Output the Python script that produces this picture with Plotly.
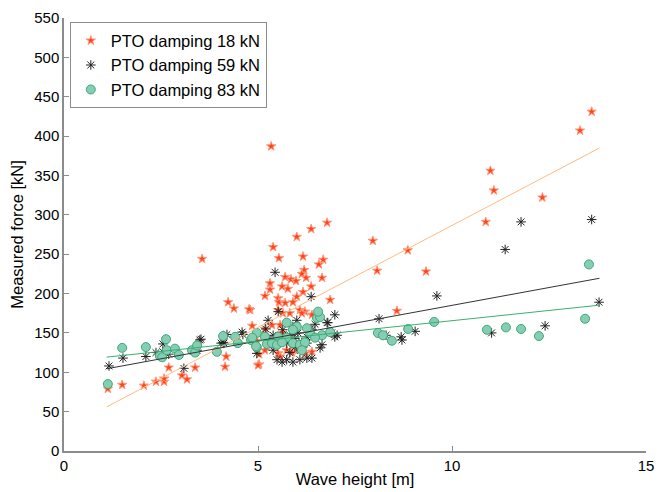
import plotly.graph_objects as go

# ---- data: PTO damping 18 kN (red stars) ----
h18 = [1.13, 1.50, 2.06, 2.37, 2.58, 2.58, 2.70, 3.04, 3.17, 3.38, 3.56, 4.15, 4.18, 4.23, 4.38,
       4.80, 4.85, 4.97, 5.03, 5.03, 5.00, 5.18, 5.34, 5.39, 5.54, 6.16, 6.57, 6.68, 6.19, 6.13,
       6.24, 5.70, 5.85, 5.98, 6.65, 5.31, 5.31, 5.62, 5.77, 6.37, 6.16, 5.18, 5.52, 6.00, 6.86,
       5.54, 5.70, 5.90, 5.52, 6.08, 6.21, 5.64, 5.82, 5.36, 6.13, 6.39, 5.57, 5.62, 5.52, 5.74,
       5.88, 6.21, 6.39, 5.57, 6.03, 6.00, 6.37, 6.78, 7.96, 8.07, 8.58, 8.86, 9.33, 10.87, 10.99,
       11.08, 12.33, 13.30, 13.60, 5.18, 4.77]
f18 = [79, 84, 83, 88, 88, 92, 106, 96, 91, 106, 244, 107, 120, 189, 181,
       179, 159, 140, 123, 110, 109, 155, 387, 259, 245, 247, 237, 243, 230, 225,
       220, 221, 218, 216, 220, 213, 205, 209, 206, 209, 202, 197, 194, 196, 192,
       189, 188, 189, 179, 179, 177, 175, 175, 160, 175, 173, 160, 150, 124, 128,
       125, 124, 126, 120, 128, 272, 282, 290, 267, 229, 178, 255, 228, 291, 356,
       331, 322, 407, 431, 128, 180]

# ---- data: PTO damping 59 kN (black asterisks) ----
h59 = [1.16, 1.52, 2.11, 2.37, 2.55, 2.55, 2.70, 3.09, 3.43, 3.50, 4.10, 4.20, 4.59, 4.61, 4.97,
       4.12, 5.44, 6.37, 5.52, 5.26, 6.00, 6.98, 6.78, 3.53, 4.05, 5.26, 5.39, 5.64, 5.82, 5.95,
       6.03, 6.13, 6.26, 6.39, 6.47, 6.65, 6.80, 7.04, 5.49, 5.62, 5.74, 5.90, 6.08, 6.26, 6.39,
       5.74, 5.95, 6.26, 5.82, 5.39, 6.60, 6.90, 6.98, 8.12, 8.30, 8.69, 9.05, 9.61, 11.37, 11.78,
       13.60, 13.79, 12.40, 11.02, 8.71, 5.20, 5.90, 6.10]
f59 = [108, 118, 120, 125, 136, 126, 123, 105, 128, 141, 138, 148, 151, 148, 124,
       137, 227, 196, 177, 166, 166, 173, 163, 142, 137, 143, 147, 154, 147, 143,
       150, 138, 145, 154, 161, 135, 163, 147, 116, 113, 116, 113, 116, 118, 118,
       137, 132, 137, 125, 128, 131, 150, 145, 168, 147, 145, 152, 197, 256, 291,
       294, 189, 159, 150, 141, 155, 158, 128]

# ---- data: PTO damping 83 kN (green circles) ----
h83 = [1.13, 1.50, 2.11, 2.47, 2.53, 2.63, 2.65, 2.86, 2.96, 3.30, 3.38, 3.43, 3.94, 4.10, 4.41,
       4.48, 4.82, 4.97, 4.97, 4.95, 5.18, 5.23, 5.36, 5.49, 5.52, 5.74, 6.00, 5.74, 5.90, 6.08,
       6.21, 6.34, 6.26, 6.52, 6.60, 6.65, 6.47, 6.13, 5.90, 5.62, 6.86, 6.55, 4.85, 8.09, 8.22,
       8.45, 8.87, 9.54, 10.90, 11.39, 11.78, 12.24, 13.43, 13.53]
f83 = [85, 131, 132, 121, 119, 142, 128, 130, 122, 128, 125, 134, 126, 146, 145,
       137, 141, 150, 132, 133, 145, 136, 137, 135, 145, 163, 158, 144, 137, 135,
       138, 150, 156, 169, 170, 147, 144, 128, 154, 138, 151, 177, 144, 150, 147,
       140, 155, 164, 154, 157, 155, 146, 168, 237]

# linear fits: [slope, intercept] and x range of each line
fit18 = [25.9, 27.5]
fit59 = [9.05, 94.5]
fit83 = [5.2, 113.5]
fit_x = [1.1, 13.8]

labels = ["PTO damping 18 kN", "PTO damping 59 kN", "PTO damping 83 kN"]

fig = go.Figure()

fig.add_trace(go.Scatter(x=h18, y=f18, mode="markers", name=labels[0],
                         marker=dict(symbol="star", size=7, color="#ff4422",
                                     line=dict(color="#ff9977", width=1))))
fig.add_trace(go.Scatter(x=h59, y=f59, mode="markers", name=labels[1],
                         marker=dict(symbol="asterisk-open", size=8, color="#222222",
                                     line=dict(color="#222222", width=1))))
fig.add_trace(go.Scatter(x=h83, y=f83, mode="markers", name=labels[2],
                         marker=dict(symbol="circle", size=9, color="#86cdb6",
                                     line=dict(color="#3bab72", width=1))))

for fit, col in [(fit18, "#ffbb80"), (fit59, "#333333"), (fit83, "#3dae6e")]:
    fy = [fit[0] * v + fit[1] for v in fit_x]
    fig.add_trace(go.Scatter(x=fit_x, y=fy, mode="lines", showlegend=False,
                             line=dict(color=col, width=1), hoverinfo="skip"))

axis_common = dict(showgrid=False, zeroline=False, showline=True, linecolor="#8c8c8c",
                   linewidth=1.5, ticks="inside", ticklen=5, tickcolor="#8c8c8c",
                   tickwidth=1, mirror=False, automargin=False,
                   tickfont=dict(family="Liberation Sans, Arial", size=15, color="#000"))

fig.update_layout(
    width=665, height=492,
    margin=dict(l=64, r=19, t=18, b=41),
    paper_bgcolor="white", plot_bgcolor="white",
    font=dict(family="Liberation Sans, Arial", color="#000"),
    xaxis=dict(range=[0, 15], tickvals=[0, 5, 10, 15],
               title=dict(text="Wave height [m]", font=dict(size=16.5), standoff=1),
               **axis_common),
    yaxis=dict(range=[0, 550], tickvals=list(range(0, 551, 50)),
               title=dict(text="Measured force [kN]", font=dict(size=16.5), standoff=6),
               **axis_common),
    legend=dict(x=0.01, y=0.99, xanchor="left", yanchor="top",
                bgcolor="white", bordercolor="#8c8c8c", borderwidth=1,
                font=dict(size=16.5, family="Liberation Sans, Arial"),
                itemsizing="trace", tracegroupgap=0),
    showlegend=True,
)

fig.write_html("out.html", config={"displayModeBar": False},
               post_script="document.body.style.margin='0px';document.body.style.overflow='hidden';")
